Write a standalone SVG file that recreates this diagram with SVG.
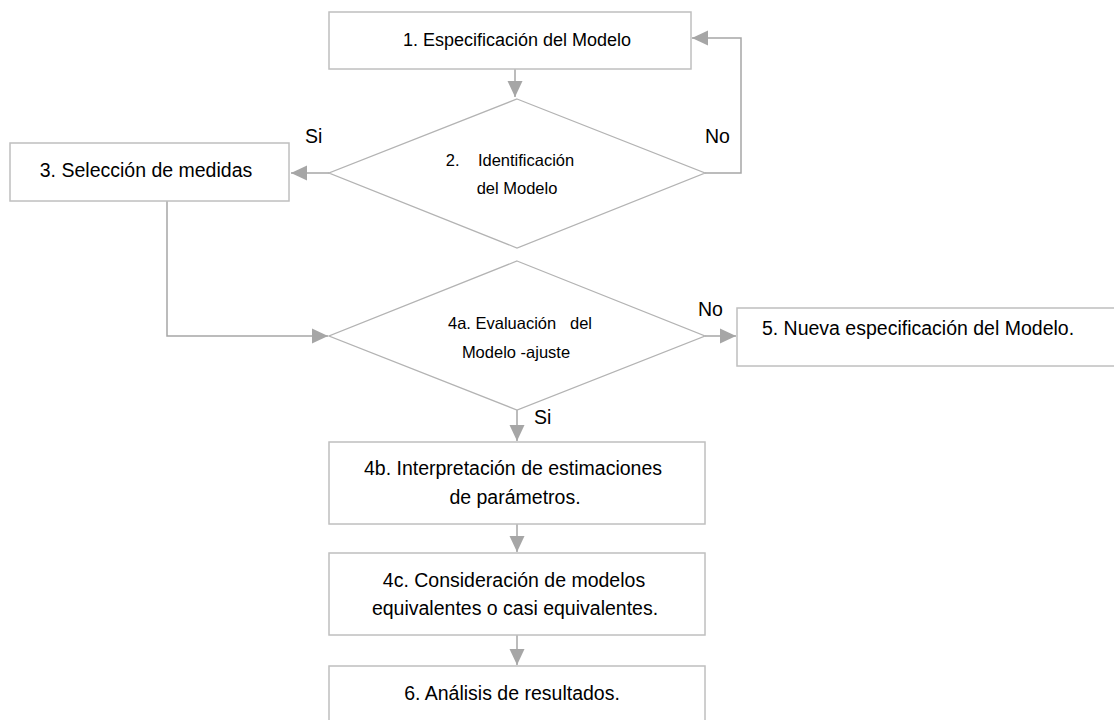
<svg xmlns="http://www.w3.org/2000/svg" width="1114" height="720" viewBox="0 0 1114 720">
<style>
.box{fill:#fff;stroke:#bfbfbf;stroke-width:1.5}
.dia{fill:#fff;stroke:#b3b3b3;stroke-width:1.3}
.con{fill:none;stroke:#a6a6a6;stroke-width:1.5}
.t{font-family:"Liberation Sans",Arial,sans-serif;font-size:19.5px;fill:#000;text-anchor:middle}
.t1{font-family:"Liberation Sans",Arial,sans-serif;font-size:18px;fill:#000;text-anchor:middle}
.td{font-family:"Liberation Sans",Arial,sans-serif;font-size:16.5px;fill:#000;text-anchor:middle}
.lbl{font-family:"Liberation Sans",Arial,sans-serif;font-size:19.5px;fill:#000}
</style>
<defs>
<marker id="ah" markerUnits="userSpaceOnUse" markerWidth="17" markerHeight="16" refX="16" refY="8" orient="auto">
<path d="M0,0.5 L16,8 L0,15.5 z" fill="#a6a6a6"/>
</marker>
</defs>
<g id="connectors">
<path class="con" d="M515,69 V97" marker-end="url(#ah)"/>
<path class="con" d="M705,173 H741 V38 H692" marker-end="url(#ah)"/>
<path class="con" d="M329,173 H291" marker-end="url(#ah)"/>
<path class="con" d="M167,201 V336 H328" marker-end="url(#ah)"/>
<path class="con" d="M705,336 H736" marker-end="url(#ah)"/>
<path class="con" d="M517,410 V441" marker-end="url(#ah)"/>
<path class="con" d="M517,524 V552" marker-end="url(#ah)"/>
<path class="con" d="M517,635 V665" marker-end="url(#ah)"/>
</g>
<g id="n1">
<rect class="box" x="329" y="12" width="362" height="57"/>
<text class="t1" x="517" y="46">1. Especificación del Modelo</text>
</g>
<g id="n2">
<polygon class="dia" points="517,99 705,173 517,248 329,173"/>
<text class="td" x="510" y="166" xml:space="preserve">2.    Identificación</text>
<text class="td" x="517" y="194">del Modelo</text>
</g>
<g id="n3">
<rect class="box" x="10" y="143" width="279" height="58"/>
<text class="t" x="146" y="177">3. Selección de medidas</text>
</g>
<g id="n4a">
<polygon class="dia" points="517,261 705,336 517,410 329,336"/>
<text class="td" x="520" y="329" xml:space="preserve">4a. Evaluación   del</text>
<text class="td" x="516" y="358">Modelo -ajuste</text>
</g>
<g id="n5">
<rect class="box" x="737" y="308" width="400" height="58"/>
<text class="t" x="918" y="335">5. Nueva especificación del Modelo.</text>
</g>
<g id="n4b">
<rect class="box" x="329" y="442" width="376" height="82"/>
<text class="t" x="513" y="475">4b. Interpretación de estimaciones</text>
<text class="t" x="515" y="504">de parámetros.</text>
</g>
<g id="n4c">
<rect class="box" x="329" y="553" width="376" height="82"/>
<text class="t" x="514" y="587">4c. Consideración de modelos</text>
<text class="t" x="515" y="615">equivalentes o casi equivalentes.</text>
</g>
<g id="n6">
<rect class="box" x="329" y="666" width="376" height="80"/>
<text class="t" x="512" y="700">6. Análisis de resultados.</text>
</g>
<g id="labels">
<text class="lbl" x="305" y="143">Si</text>
<text class="lbl" x="705" y="143">No</text>
<text class="lbl" x="698" y="316">No</text>
<text class="lbl" x="534" y="424">Si</text>
</g>
</svg>
